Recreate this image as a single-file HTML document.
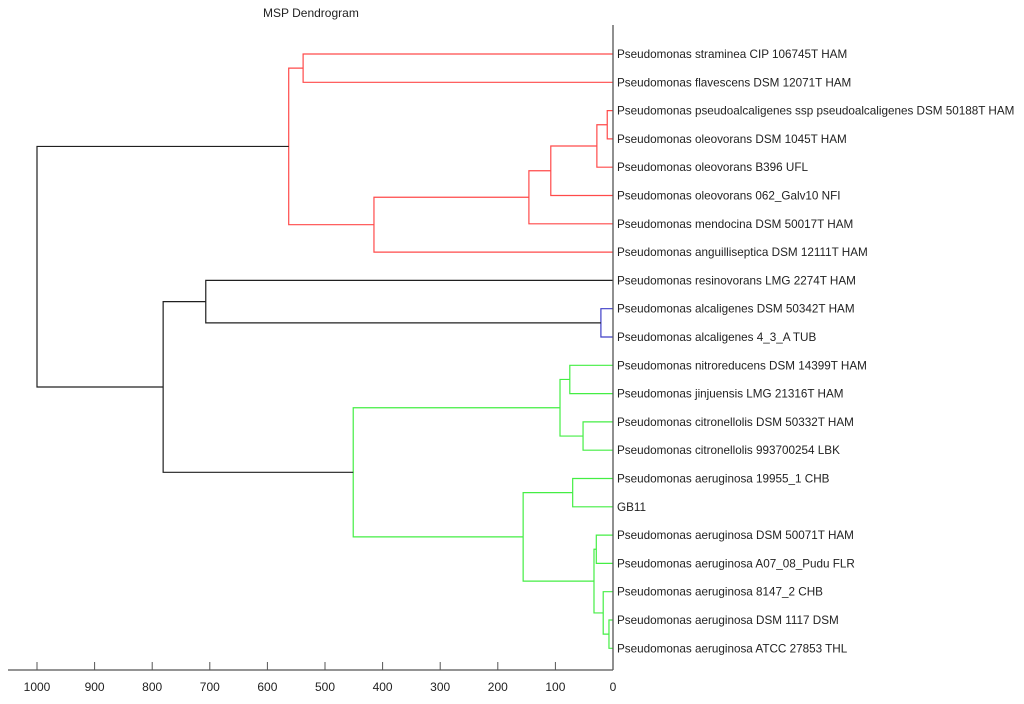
<!DOCTYPE html>
<html><head><meta charset="utf-8"><style>
body{margin:0;background:#fff;}
svg text{font-family:"Liberation Sans",sans-serif;}
</style></head><body>
<svg id="chart" width="1024" height="699" xmlns="http://www.w3.org/2000/svg">
<text x="263" y="17" font-size="12" fill="#222">MSP Dendrogram</text>
<g id="marks"></g>
</svg>
<script>
const leaves = ["Pseudomonas straminea CIP 106745T HAM","Pseudomonas flavescens DSM 12071T HAM","Pseudomonas pseudoalcaligenes ssp pseudoalcaligenes DSM 50188T HAM","Pseudomonas oleovorans DSM 1045T HAM","Pseudomonas oleovorans B396 UFL","Pseudomonas oleovorans 062_Galv10 NFI","Pseudomonas mendocina DSM 50017T HAM","Pseudomonas anguilliseptica DSM 12111T HAM","Pseudomonas resinovorans LMG 2274T HAM","Pseudomonas alcaligenes DSM 50342T HAM","Pseudomonas alcaligenes 4_3_A TUB","Pseudomonas nitroreducens DSM 14399T HAM","Pseudomonas jinjuensis LMG 21316T HAM","Pseudomonas citronellolis DSM 50332T HAM","Pseudomonas citronellolis 993700254 LBK","Pseudomonas aeruginosa 19955_1 CHB","GB11","Pseudomonas aeruginosa DSM 50071T HAM","Pseudomonas aeruginosa A07_08_Pudu FLR","Pseudomonas aeruginosa 8147_2 CHB","Pseudomonas aeruginosa DSM 1117 DSM","Pseudomonas aeruginosa ATCC 27853 THL"];
// merges in order; "Ln" = leaf n, "Nn" = merge n
const mergeLeft  = ["L0","L2","N1","N2","N3","N4","N0","L9","L8","L11","L13","N9","L15","L17","L20","L19","N13","N12","N11","N8","N6"];
const mergeRight = ["L1","L3","L4","L5","L6","L7","N5","L10","N7","L12","L14","N10","L16","L18","L21","N14","N15","N16","N17","N18","N19"];
const mergeDist  = [538,10,28,108,146,415,563,21,707,75,52,92,70,29,7,17,33,156,451,781,1000];
const mergeColor = ["r","r","r","r","r","r","r","b","k","g","g","g","g","g","g","g","g","g","g","k","k"];
const ticks = [1000,900,800,700,600,500,400,300,200,100,0];
</script>
<script>
(function(){
const NS="http://www.w3.org/2000/svg";
const g=document.getElementById('marks');
const X0=613,SC=0.576,Y0=54,DY=28.3,AXY=670;
const xs=d=>X0-d*SC;
const colors={r:"#ff4a4a",g:"#44ee44",b:"#3f3fc8",k:"#202020"};
function mk(tag,attrs){const e=document.createElementNS(NS,tag);for(const k in attrs)e.setAttribute(k,attrs[k]);g.appendChild(e);return e;}
leaves.forEach((l,i)=>{
  const t=mk('text',{x:617,y:Y0+i*DY+4,'font-size':11.7,fill:'#222'});
  t.textContent=l;
  
  
});
const nodes=[];
function pos(ref){const i=+ref.slice(1);return ref[0]==='L'?{x:X0,y:Y0+i*DY}:nodes[i];}
for(let i=0;i<mergeDist.length;i++){
  const pa=pos(mergeLeft[i]),pb=pos(mergeRight[i]),x=xs(mergeDist[i]),c=colors[mergeColor[i]];
  nodes[i]={x:x,y:(pa.y+pb.y)/2};
  const p=mk('polyline',{points:`${pa.x},${pa.y} ${x},${pa.y} ${x},${pb.y} ${pb.x},${pb.y}`,fill:'none',stroke:c,'stroke-width':1.2});
  
  
}
const ax=mk('line',{x1:8,y1:AXY,x2:X0,y2:AXY,stroke:'#555','stroke-width':1.3});


const ay=mk('line',{x1:X0,y1:25,x2:X0,y2:AXY,stroke:'#555','stroke-width':1.3});


ticks.forEach(t=>{const x=xs(t);
 const l=mk('line',{x1:x,y1:AXY-8,x2:x,y2:AXY,stroke:'#555'});
 
 
 const tx=mk('text',{x:x,y:AXY+21,'font-size':12,'text-anchor':'middle',fill:'#222'});
 tx.textContent=t;
 
 
});
})();
</script>
</body></html>
